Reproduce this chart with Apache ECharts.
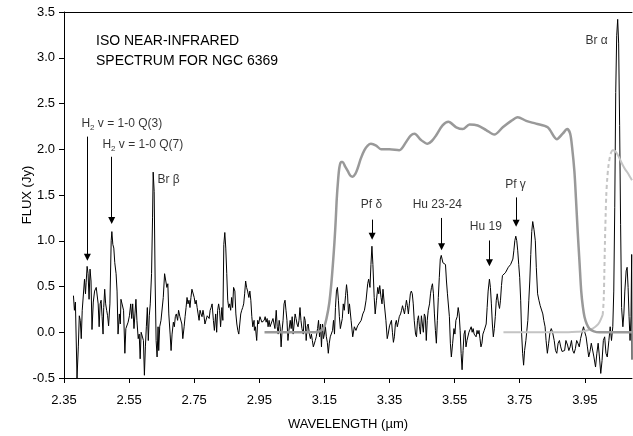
<!DOCTYPE html>
<html>
<head>
<meta charset="utf-8">
<script src="https://cdn.jsdelivr.net/npm/echarts@6/dist/echarts.min.js"></script>
<style>html,body{margin:0;padding:0;background:#fff}#c{width:633px;height:436px}</style>
</head>
<body>
<div id="c"></div>
<script>
// ---- data ----
const xTickValues = [2.35, 2.55, 2.75, 2.95, 3.15, 3.35, 3.55, 3.75, 3.95];
const titleLines = ['ISO NEAR-INFRARED', 'SPECTRUM FOR NGC 6369'];

// observed spectrum [wavelength (um), flux (Jy)]
const spectrum = [
[2.379,0.40],[2.382,0.24],[2.385,0.33],[2.390,-0.50],[2.394,-0.16],[2.397,0.18],[2.400,0.13],[2.403,-0.07],[2.406,0.24],[2.410,0.26],
[2.413,0.58],[2.416,0.42],[2.418,0.54],[2.421,0.72],[2.424,0.64],[2.427,0.36],[2.430,0.69],[2.433,0.56],[2.436,0.03],[2.440,0.33],
[2.444,0.45],[2.449,0.49],[2.452,0.51],[2.455,0.31],[2.458,0.06],[2.461,0.31],[2.464,0.35],[2.467,0.17],[2.470,-0.02],[2.472,0.27],
[2.475,0.47],[2.478,0.31],[2.481,0.24],[2.484,0.18],[2.487,0.07],[2.491,0.31],[2.495,1.00],[2.497,1.10],[2.500,0.96],[2.503,0.92],
[2.506,0.76],[2.510,0.64],[2.513,0.45],[2.516,-0.02],[2.520,0.20],[2.523,0.09],[2.525,0.36],[2.529,0.36],[2.533,0.24],[2.537,-0.23],
[2.540,0.04],[2.544,0.02],[2.547,0.11],[2.551,0.18],[2.555,0.31],[2.558,0.15],[2.561,0.31],[2.565,0.04],[2.568,0.20],[2.571,0.36],
[2.574,0.13],[2.578,-0.07],[2.581,-0.02],[2.584,-0.29],[2.587,0.00],[2.591,0.02],[2.594,-0.09],[2.597,-0.47],[2.600,-0.16],[2.603,0.06],
[2.606,0.27],[2.609,-0.09],[2.612,0.18],[2.615,0.31],[2.619,0.64],[2.622,1.25],[2.624,1.75],[2.627,1.54],[2.630,0.56],[2.633,-0.09],
[2.636,-0.27],[2.639,0.06],[2.641,-0.20],[2.644,0.06],[2.648,0.13],[2.651,0.15],[2.655,0.38],[2.659,0.64],[2.663,0.65],[2.666,0.49],
[2.669,0.53],[2.672,0.20],[2.676,-0.02],[2.679,-0.20],[2.682,-0.02],[2.686,0.11],[2.689,0.06],[2.692,0.17],[2.695,0.20],[2.699,0.13],
[2.702,0.24],[2.706,0.17],[2.709,0.18],[2.712,0.09],[2.715,-0.07],[2.719,0.06],[2.722,0.17],[2.725,0.27],[2.728,0.38],[2.731,0.31],
[2.734,0.35],[2.737,0.27],[2.740,0.38],[2.743,0.47],[2.747,0.49],[2.750,0.38],[2.753,0.31],[2.756,0.35],[2.759,0.27],[2.762,0.20],
[2.765,0.13],[2.768,0.24],[2.771,0.20],[2.774,0.17],[2.777,0.24],[2.780,0.18],[2.783,0.09],[2.786,0.07],[2.790,0.18],[2.793,0.20],
[2.796,0.15],[2.799,0.24],[2.802,0.27],[2.805,0.31],[2.809,0.13],[2.812,0.02],[2.816,0.20],[2.819,0.00],[2.822,0.24],[2.825,0.31],
[2.828,0.24],[2.831,0.06],[2.835,0.27],[2.838,0.13],[2.841,0.96],[2.844,1.09],[2.847,0.92],[2.850,0.64],[2.853,0.35],[2.856,0.27],
[2.859,0.31],[2.862,0.24],[2.865,0.38],[2.868,0.27],[2.871,0.49],[2.875,0.45],[2.878,0.20],[2.881,0.09],[2.884,0.02],[2.887,-0.02],
[2.890,0.09],[2.893,0.20],[2.896,0.24],[2.899,0.27],[2.902,0.31],[2.905,0.42],[2.908,0.56],[2.911,0.49],[2.914,0.45],[2.918,0.38],
[2.921,0.45],[2.924,0.35],[2.927,0.17],[2.930,0.06],[2.934,0.13],[2.935,0.02],[2.938,0.06],[2.942,-0.09],[2.945,0.13],[2.948,0.09],
[2.952,0.17],[2.955,0.15],[2.958,0.11],[2.962,0.09],[2.965,0.13],[2.968,0.17],[2.971,0.11],[2.974,0.15],[2.977,0.06],[2.980,0.13],
[2.983,0.06],[2.986,0.09],[2.989,0.11],[2.992,0.15],[2.995,0.17],[2.998,0.04],[3.002,0.24],[3.005,0.06],[3.008,-0.02],[3.011,0.13],
[3.014,0.06],[3.017,-0.16],[3.020,0.02],[3.023,0.13],[3.026,0.31],[3.029,0.35],[3.032,0.24],[3.035,0.13],[3.038,-0.09],[3.041,0.02],
[3.045,0.13],[3.048,0.04],[3.051,0.17],[3.054,-0.02],[3.057,0.09],[3.060,0.20],[3.063,0.15],[3.066,0.09],[3.069,0.06],[3.072,0.13],
[3.075,0.27],[3.078,0.13],[3.081,0.04],[3.085,-0.02],[3.088,0.17],[3.091,0.13],[3.094,-0.09],[3.097,0.06],[3.100,0.09],[3.104,-0.02],
[3.107,-0.07],[3.110,-0.02],[3.113,-0.09],[3.116,-0.16],[3.119,-0.14],[3.122,-0.09],[3.125,-0.05],[3.129,0.04],[3.132,0.13],[3.135,-0.05],
[3.138,0.09],[3.141,-0.16],[3.144,0.09],[3.147,-0.07],[3.150,-0.02],[3.153,0.06],[3.156,-0.05],[3.159,-0.11],[3.162,-0.23],[3.165,-0.12],
[3.168,-0.05],[3.171,-0.02],[3.175,0.02],[3.178,0.13],[3.181,-0.02],[3.184,0.27],[3.187,0.45],[3.190,0.49],[3.193,0.35],[3.196,0.17],
[3.199,0.04],[3.202,0.04],[3.205,0.15],[3.208,0.31],[3.211,0.24],[3.215,0.40],[3.218,0.52],[3.221,0.42],[3.224,0.20],[3.227,0.31],
[3.232,0.13],[3.237,-0.05],[3.242,0.06],[3.247,0.02],[3.252,0.07],[3.258,0.06],[3.263,0.13],[3.268,0.20],[3.273,0.24],[3.278,0.35],
[3.283,0.53],[3.286,0.58],[3.290,0.49],[3.293,0.74],[3.296,0.94],[3.299,0.74],[3.303,0.38],[3.306,0.20],[3.310,0.35],[3.314,0.49],
[3.317,0.42],[3.320,0.51],[3.324,0.38],[3.327,0.31],[3.330,0.47],[3.334,0.31],[3.339,0.13],[3.343,-0.07],[3.346,-0.02],[3.350,0.07],
[3.353,0.06],[3.356,0.13],[3.359,0.00],[3.362,-0.11],[3.365,-0.05],[3.368,0.09],[3.371,0.13],[3.374,0.06],[3.377,0.11],[3.380,0.17],
[3.384,0.20],[3.387,0.24],[3.390,0.29],[3.393,0.31],[3.396,0.20],[3.399,0.27],[3.402,0.35],[3.405,0.29],[3.408,0.20],[3.411,0.31],
[3.414,0.42],[3.417,0.45],[3.420,0.42],[3.423,0.31],[3.426,0.13],[3.430,-0.02],[3.433,-0.05],[3.436,0.13],[3.439,0.18],[3.442,0.06],
[3.445,-0.02],[3.448,0.18],[3.451,0.18],[3.454,0.00],[3.457,0.20],[3.460,0.17],[3.463,-0.09],[3.466,0.13],[3.469,0.24],[3.473,0.31],
[3.476,0.42],[3.479,0.49],[3.482,0.53],[3.485,0.42],[3.488,0.20],[3.491,0.02],[3.494,-0.12],[3.497,0.13],[3.500,0.38],[3.503,0.60],
[3.506,0.80],[3.509,0.84],[3.514,0.76],[3.518,0.78],[3.522,0.74],[3.525,0.56],[3.528,0.42],[3.531,0.44],[3.534,0.17],[3.537,-0.12],
[3.540,-0.27],[3.544,-0.12],[3.548,0.04],[3.551,-0.02],[3.554,0.13],[3.558,0.17],[3.561,0.27],[3.564,0.20],[3.567,0.02],[3.570,-0.23],
[3.573,-0.41],[3.576,-0.20],[3.579,-0.02],[3.582,0.02],[3.585,-0.16],[3.588,-0.09],[3.591,-0.07],[3.594,0.00],[3.598,0.02],[3.601,0.06],
[3.604,0.00],[3.607,0.04],[3.610,-0.02],[3.613,0.00],[3.616,-0.05],[3.619,0.02],[3.622,-0.02],[3.625,0.02],[3.628,-0.07],[3.631,-0.16],
[3.634,-0.12],[3.637,-0.02],[3.641,0.02],[3.644,0.04],[3.647,0.09],[3.650,0.27],[3.653,0.45],[3.657,0.58],[3.660,0.49],[3.663,0.31],
[3.666,0.09],[3.669,-0.05],[3.672,0.04],[3.675,0.17],[3.678,0.35],[3.681,0.42],[3.685,0.31],[3.688,0.26],[3.691,0.35],[3.694,0.51],
[3.697,0.62],[3.700,0.64],[3.703,0.62],[3.706,0.65],[3.709,0.67],[3.712,0.65],[3.715,0.71],[3.718,0.69],[3.722,0.74],[3.725,0.72],
[3.729,0.80],[3.732,0.89],[3.735,1.00],[3.738,1.05],[3.741,1.00],[3.744,0.89],[3.747,0.74],[3.750,0.60],[3.753,0.35],[3.756,-0.02],
[3.759,-0.23],[3.762,-0.36],[3.765,-0.20],[3.769,-0.09],[3.772,0.02],[3.775,0.13],[3.778,0.35],[3.781,0.56],[3.784,0.85],[3.787,1.10],
[3.790,1.21],[3.794,1.12],[3.798,1.00],[3.801,0.71],[3.805,0.42],[3.809,0.35],[3.813,0.29],[3.817,0.31],[3.821,0.20],[3.824,0.13],
[3.828,0.06],[3.831,-0.09],[3.835,-0.23],[3.839,-0.12],[3.843,0.00],[3.847,0.04],[3.851,0.00],[3.856,-0.09],[3.860,-0.20],[3.864,-0.23],
[3.868,-0.12],[3.872,-0.09],[3.876,-0.16],[3.880,-0.21],[3.884,-0.23],[3.888,-0.20],[3.892,-0.09],[3.897,-0.14],[3.901,-0.20],[3.905,-0.16],
[3.909,-0.09],[3.913,-0.20],[3.917,-0.23],[3.921,-0.18],[3.925,-0.09],[3.929,-0.12],[3.933,-0.16],[3.937,-0.07],[3.942,-0.05],[3.946,0.06],
[3.950,0.00],[3.954,-0.05],[3.958,-0.16],[3.962,-0.27],[3.966,-0.21],[3.970,-0.12],[3.974,-0.12],[3.978,-0.27],[3.983,-0.38],[3.987,-0.23],
[3.991,-0.12],[3.995,-0.27],[3.999,-0.45],[4.003,-0.31],[4.007,-0.09],[4.011,-0.05],[4.015,-0.23],[4.019,-0.27],[4.024,-0.09],[4.028,0.06],
[4.032,-0.09],[4.036,0.06],[4.039,0.45],[4.042,1.36],[4.045,2.62],[4.048,3.24],[4.051,3.42],[4.054,3.16],[4.057,2.26],[4.060,1.18],
[4.063,0.27],[4.067,0.06],[4.070,0.20],[4.073,0.45],[4.077,0.67],[4.080,0.71],[4.083,0.49],[4.086,0.17],[4.089,-0.09],[4.092,0.17],
[4.094,0.85],[4.095,-0.30]
];

// grey profile (darker)
const profileA = [
[2.966,0],[3.05,0],[3.120,0],[3.135,0.01],[3.148,0.05],[3.157,0.16],[3.165,0.32],[3.171,0.52],[3.176,0.74],[3.181,0.99],
[3.185,1.24],[3.188,1.46],[3.192,1.66],[3.196,1.80],[3.201,1.86],[3.206,1.86],[3.214,1.81],[3.222,1.76],[3.230,1.71],[3.237,1.70],
[3.245,1.73],[3.252,1.79],[3.262,1.90],[3.273,1.99],[3.283,2.04],[3.293,2.06],[3.309,2.04],[3.324,2.00],[3.350,2.00],[3.380,1.99],
[3.401,2.08],[3.415,2.15],[3.427,2.17],[3.447,2.10],[3.467,2.06],[3.480,2.09],[3.493,2.15],[3.513,2.26],[3.531,2.30],[3.555,2.24],
[3.575,2.22],[3.596,2.27],[3.621,2.26],[3.647,2.21],[3.672,2.16],[3.698,2.24],[3.724,2.31],[3.744,2.35],[3.770,2.31],[3.800,2.28],
[3.836,2.24],[3.864,2.11],[3.882,2.17],[3.896,2.22],[3.905,2.17],[3.911,2.02],[3.918,1.76],[3.923,1.45],[3.928,1.11],[3.934,0.75],
[3.939,0.45],[3.944,0.28],[3.949,0.17],[3.956,0.09],[3.964,0.04],[3.978,0.01],[3.995,0],[4.095,0]
];
// grey profile (lighter): solid, dashed, solid parts
const profileB1 = [[3.700,0],[3.800,0],[3.900,0],[3.930,0.005],[3.945,0.01],[3.962,0.025],[3.974,0.04],[3.986,0.07],[3.995,0.11],[4.005,0.19]];
const profileB2 = [[4.005,0.19],[4.008,0.35],[4.010,0.65],[4.012,1.00],[4.014,1.27],[4.016,1.50],[4.019,1.68],[4.023,1.83],[4.029,1.95]];
const profileB3 = [[4.029,1.95],[4.036,1.99],[4.043,1.98],[4.051,1.94],[4.058,1.89],[4.066,1.83],[4.074,1.78],[4.082,1.74],[4.095,1.66]];

// line identifications: label text, label anchor [x, y], arrow [x, yTop, yHead]
const lineLabels = ['H₂ v = 1-0 Q(3)', 'H₂ v = 1-0 Q(7)', 'Br β', 'Pf δ', 'Hu 23-24', 'Hu 19', 'Pf γ', 'Br α'];
const lineLabelX = [2.4035, 2.468, 2.637, 3.2944, 3.497, 3.646, 3.737, 3.986];
const lineLabelY = [2.279, 2.052, 1.662, 1.390, 1.390, 1.155, 1.610, 3.190];
const labelAlign = ['left', 'left', 'left', 'center', 'center', 'center', 'center', 'center'];
const arrowX = [2.4219, 2.4966, 3.2966, 3.510, 3.657, 3.739];
const arrowTop = [2.138, 1.918, 1.231, 1.249, 1.003, 1.474];
const arrowHead = [0.82, 1.22, 1.05, 0.935, 0.76, 1.19];

// ---- chart ----
const FONT = '"Liberation Sans", Arial, Helvetica, sans-serif';
const chart = echarts.init(document.getElementById('c'), null, {renderer: 'canvas'});

const labelData = lineLabels.map((t, i) => ({
  value: [lineLabelX[i], lineLabelY[i]],
  name: t,
  label: {align: labelAlign[i]}
}));

const arrowData = arrowX.map((x, i) => [
  {coord: [x, arrowTop[i]], symbol: 'none'},
  {coord: [x, arrowHead[i]], symbol: 'triangle'}
]);

chart.setOption({
  animation: false,
  backgroundColor: '#fff',
  title: {
    text: titleLines.join('\n'),
    left: 91, top: 26,
    textStyle: {fontFamily: FONT, fontSize: 14, fontWeight: 'normal', color: '#000', lineHeight: 20}
  },
  grid: {left: 64, right: 1, top: 12, bottom: 55, containLabel: false},
  xAxis: [{
    type: 'value', min: 2.35, max: 4.095,
    name: 'WAVELENGTH (µm)', nameLocation: 'middle', nameGap: 40, nameMoveOverlap: false,
    nameTextStyle: {fontFamily: FONT, fontSize: 13, color: '#000'},
    axisLine: {show: true, onZero: false, lineStyle: {color: '#000', width: 1}},
    axisTick: {show: true, inside: false, length: 5, customValues: xTickValues, lineStyle: {color: '#000'}},
    axisLabel: {customValues: xTickValues, formatter: v => v.toFixed(2), fontFamily: FONT, fontSize: 13, color: '#000', margin: 16},
    splitLine: {show: false}
  }, {
    type: 'value', min: 2.35, max: 4.095, position: 'top',
    axisLine: {show: true, onZero: false, lineStyle: {color: '#000', width: 1}},
    axisTick: {show: false}, axisLabel: {show: false}, splitLine: {show: false}
  }],
  yAxis: {
    type: 'value', min: -0.5, max: 3.5, interval: 0.5,
    name: 'FLUX (Jy)', nameLocation: 'middle', nameGap: 30, nameMoveOverlap: false,
    nameTextStyle: {fontFamily: FONT, fontSize: 13, color: '#000'},
    axisLine: {show: true, onZero: false, lineStyle: {color: '#000', width: 1}},
    axisTick: {show: true, inside: false, length: 5, lineStyle: {color: '#000'}},
    axisLabel: {formatter: v => v.toFixed(1), fontFamily: FONT, fontSize: 13, color: '#000', margin: 9},
    splitLine: {show: false}
  },
  series: [
    {
      name: 'spectrum', type: 'line', data: spectrum, showSymbol: false, symbol: 'none',
      lineStyle: {color: '#000', width: 1}, z: 2, silent: true,
      markLine: {
        silent: true, animation: false, symbolSize: 7,
        lineStyle: {color: '#000', width: 1, type: 'solid'},
        itemStyle: {color: '#000'},
        label: {show: false}, emphasis: {disabled: true},
        data: arrowData
      }
    },
    {
      name: 'profileA', type: 'line', data: profileA, showSymbol: false, symbol: 'none',
      smooth: 0.3,
      lineStyle: {color: '#999999', width: 2.5}, z: 3, silent: true
    },
    {
      name: 'profileB1', type: 'line', data: profileB1, showSymbol: false, symbol: 'none',
      smooth: 0.3,
      lineStyle: {color: '#c4c4c4', width: 2}, z: 2.5, silent: true
    },
    {
      name: 'profileB2', type: 'line', data: profileB2, showSymbol: false, symbol: 'none',
      smooth: 0.3,
      lineStyle: {color: '#c4c4c4', width: 2, type: [4, 3]}, z: 3, silent: true
    },
    {
      name: 'profileB3', type: 'line', data: profileB3, showSymbol: false, symbol: 'none',
      smooth: 0.3,
      lineStyle: {color: '#c4c4c4', width: 2}, z: 3, silent: true
    },
    {
      name: 'labels', type: 'scatter', data: labelData, symbolSize: 0, silent: true, z: 5,
      label: {
        show: true, position: 'inside', verticalAlign: 'middle',
        fontFamily: FONT, fontSize: 12, color: '#000', lineHeight: 16,
        formatter: p => p.name.replace('₂', '{s|2}'),
        rich: {s: {fontFamily: FONT, fontSize: 8, color: '#000', verticalAlign: 'bottom', lineHeight: 8}}
      }
    }
  ]
});
</script>
</body>
</html>
